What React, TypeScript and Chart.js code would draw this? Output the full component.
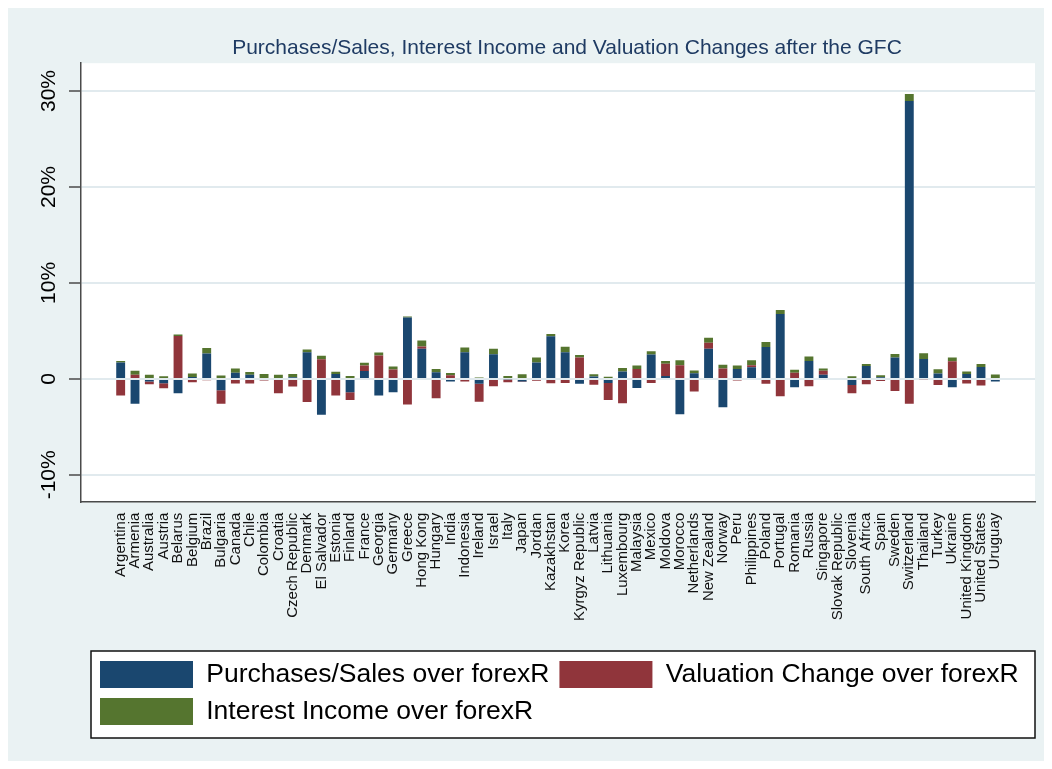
import React, { useEffect, useRef } from 'react';
import { Chart, registerables } from 'chart.js';

Chart.register(...registerables);

const chartTitle = 'Purchases/Sales, Interest Income and Valuation Changes after the GFC';

const countries = [
  'Argentina', 'Armenia', 'Australia', 'Austria', 'Belarus', 'Belgium', 'Brazil', 'Bulgaria',
  'Canada', 'Chile', 'Colombia', 'Croatia', 'Czech Republic', 'Denmark', 'El Salvador', 'Estonia',
  'Finland', 'France', 'Georgia', 'Germany', 'Greece', 'Hong Kong', 'Hungary', 'India',
  'Indonesia', 'Ireland', 'Israel', 'Italy', 'Japan', 'Jordan', 'Kazakhstan', 'Korea',
  'Kyrgyz Republic', 'Latvia', 'Lithuania', 'Luxembourg', 'Malaysia', 'Mexico', 'Moldova', 'Morocco',
  'Netherlands', 'New Zealand', 'Norway', 'Peru', 'Philippines', 'Poland', 'Portugal', 'Romania',
  'Russia', 'Singapore', 'Slovak Republic', 'Slovenia', 'South Africa', 'Spain', 'Sweden', 'Switzerland',
  'Thailand', 'Turkey', 'Ukraine', 'United Kingdom', 'United States', 'Uruguay',
];

const purchasesSales = [
  1.70, -2.6, -0.28, -0.45, -1.49, 0.2, 2.64, -1.18,
  0.63, 0.42, 0, 0, 0.17, 2.78, -3.75, 0.5,
  -1.39, 0.83, -1.74, -1.39, 6.39, 3.13, 0.69, -0.28,
  2.78, -0.52, 2.57, -0.1, -0.28, 1.70, 4.44, 2.78,
  -0.52, 0.25, -0.42, 0.76, -0.94, 2.53, 0.31, -3.68,
  0.59, 3.13, -2.95, 1.04, 1.22, 3.33, 6.77, -0.87,
  1.875, 0.42, 0, -0.63, 1.35, 0.17, 2.22, 28.96,
  2.08, 0.56, -0.87, 0.52, 1.25, -0.28,
];

const valuationChange = [
  -1.74, 0.42, -0.28, -0.52, 4.48, -0.35, -0.14, -1.42,
  -0.49, -0.49, -0.17, -1.49, -0.8, -2.4, 2.05, -1.74,
  -0.8, 0.56, 2.43, 0.97, -2.67, 0.24, -2.01, 0.38,
  -0.28, -1.875, -0.76, -0.25, -0.05, -0.2, -0.45, -0.42,
  2.22, -0.62, -1.77, -2.53, 1.04, -0.42, 1.28, 1.42,
  -1.32, 0.63, 1.08, -0.17, 0.21, -0.52, -1.81, 0.63,
  -0.76, 0.42, 0, -0.87, -0.56, -0.21, -1.25, -2.6,
  -0.1, -0.63, 1.84, -0.49, -0.69, 0,
];

const interestIncome = [
  0.17, 0.42, 0.42, 0.28, 0.14, 0.35, 0.59, 0.35,
  0.45, 0.31, 0.52, 0.42, 0.35, 0.28, 0.35, 0.24,
  0.31, 0.28, 0.31, 0.31, 0.1, 0.63, 0.35, 0.24,
  0.49, 0.14, 0.56, 0.31, 0.49, 0.52, 0.24, 0.56,
  0.28, 0.24, 0.21, 0.38, 0.35, 0.35, 0.28, 0.52,
  0.28, 0.52, 0.38, 0.35, 0.52, 0.52, 0.42, 0.31,
  0.45, 0.24, 0, 0.28, 0.21, 0.21, 0.38, 0.73,
  0.59, 0.45, 0.38, 0.24, 0.31, 0.45,
];

const seriesNames = [
  'Purchases/Sales over forexR',
  'Valuation Change over forexR',
  'Interest Income over forexR',
];

const yTickValues = [-10, 0, 10, 20, 30];

const FONT = '"Liberation Sans", Arial, Helvetica, sans-serif';

export default function App() {
  const canvasRef = useRef<HTMLCanvasElement>(null);

  useEffect(() => {
    const canvas = canvasRef.current;
    if (!canvas) return;
    Chart.defaults.font.family = FONT;

    const toPoints = (arr: number[]) => arr.map((y, i) => ({ x: i, y }));
    const fmtY = (v: number) => (v === 0 ? '0' : `${v}%`);

    const stataPlugin = {
      id: 'stataLook',
      afterLayout(chart: any) {
        const a = chart.chartArea;
        const lg = chart.legend;
        if (lg && a) {
          const dx = a.left + 9 - lg.left;
          lg.left += dx;
          lg.right += dx;
          const dy = a.bottom + 149.3 - lg.top;
          lg.top += dy;
          lg.bottom += dy;
        }
        const tb = chart.titleBlock;
        if (tb && a) {
          const center = (tb.left + tb.right) / 2;
          const tdx = (a.left + a.right) / 2 + 9 - center;
          tb.left += tdx;
          tb.right += tdx;
        }
      },
      beforeDraw(chart: any) {
        const { ctx, chartArea: a, width, height } = chart;
        ctx.save();
        ctx.fillStyle = '#EAF2F3';
        ctx.fillRect(0, 0, width, height);
        ctx.fillStyle = '#ffffff';
        ctx.fillRect(a.left, a.top, a.right - a.left, a.bottom - a.top);
        const lg = chart.legend;
        if (lg) {
          const bx = a.left + 10;
          const by = lg.top;
          const bw = a.right - bx;
          const bh = 87;
          ctx.fillRect(bx, by, bw, bh);
          ctx.strokeStyle = '#111111';
          ctx.lineWidth = 1.5;
          ctx.strokeRect(bx, by, bw, bh);
        }
        ctx.restore();
      },
      afterDraw(chart: any) {
        const { ctx } = chart;
        const ys = chart.scales.y;
        const a = chart.chartArea;
        ctx.save();
        ctx.font = `21px ${FONT}`;
        ctx.fillStyle = '#000000';
        ctx.textAlign = 'center';
        ctx.textBaseline = 'middle';
        yTickValues.forEach((v) => {
          const py = ys.getPixelForValue(v);
          ctx.save();
          ctx.translate(a.left - 31.5, py);
          ctx.rotate(-Math.PI / 2);
          ctx.fillText(fmtY(v), 0, 0);
          ctx.restore();
        });
        ctx.restore();
      },
    };

    const chart = new Chart(canvas, {
      type: 'bar',
      data: {
        datasets: [
          { label: seriesNames[0], data: toPoints(purchasesSales), backgroundColor: '#1a476f', borderWidth: 0 },
          { label: seriesNames[1], data: toPoints(valuationChange), backgroundColor: '#90353b', borderWidth: 0 },
          { label: seriesNames[2], data: toPoints(interestIncome), backgroundColor: '#55752f', borderWidth: 0 },
        ],
      },
      options: {
        responsive: false,
        animation: false,
        devicePixelRatio: 1,
        layout: { padding: { top: 18, right: 9, bottom: 37, left: 0 } },
        datasets: { bar: { barPercentage: 0.62, categoryPercentage: 1.0 } } as any,
        scales: {
          x: {
            type: 'linear',
            stacked: true,
            min: -2.23,
            max: 63.23,
            afterBuildTicks: (axis: any) => {
              axis.ticks = countries.map((_, i) => ({ value: i }));
            },
            afterFit: (axis: any) => {
              axis.height = 138.3;
            },
            grid: { display: false, drawTicks: false },
            border: { display: true, color: '#4a4a4a', width: 1.5 },
            ticks: {
              autoSkip: false,
              minRotation: 90,
              maxRotation: 90,
              padding: 11,
              color: '#111111',
              font: { size: 15, family: FONT },
              callback: (v: any) => countries[Math.round(Number(v))] ?? '',
            },
          },
          y: {
            type: 'linear',
            stacked: true,
            min: -12.8,
            max: 32.9,
            afterBuildTicks: (axis: any) => {
              axis.ticks = yTickValues.map((v) => ({ value: v }));
            },
            afterFit: (axis: any) => {
              axis.width = 73;
            },
            grid: {
              display: true,
              drawOnChartArea: true,
              drawTicks: true,
              color: '#E1EAEE',
              lineWidth: 2,
              tickLength: 12,
              tickColor: '#4a4a4a',
              tickWidth: 1.5,
            },
            border: { display: true, color: '#4a4a4a', width: 1.5 },
            ticks: { display: false },
          },
        },
        plugins: {
          title: {
            display: true,
            text: chartTitle,
            color: '#1f3b63',
            font: { size: 21, weight: 'normal', family: FONT },
            padding: { top: 10, bottom: 2 },
          },
          legend: {
            display: true,
            position: 'bottom',
            align: 'start',
            fullSize: true,
            labels: {
              boxWidth: 93,
              boxHeight: 27,
              padding: 10,
              color: '#000000',
              font: { size: 26.5, family: FONT },
            },
          },
          tooltip: { enabled: false },
        },
      },
      plugins: [stataPlugin],
    });

    return () => chart.destroy();
  }, []);

  return (
    <div style={{ width: 1036, height: 753 }}>
      <canvas ref={canvasRef} width={1036} height={753} style={{ display: 'block', width: 1036, height: 753 }} />
    </div>
  );
}
